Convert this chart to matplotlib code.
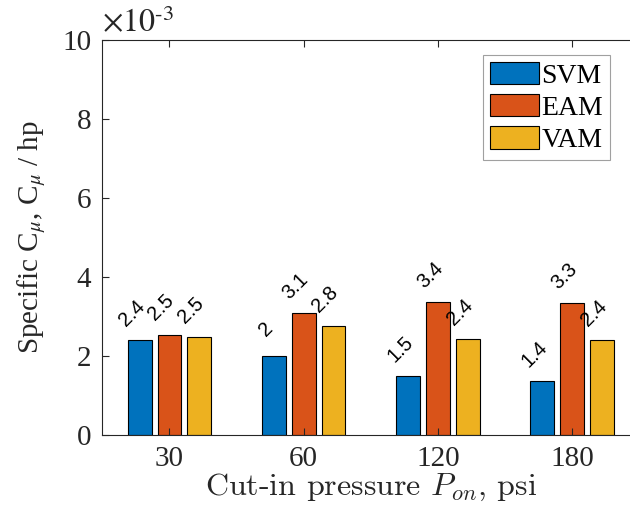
import matplotlib
matplotlib.use('Agg')
import matplotlib.pyplot as plt
import numpy as np

# values in units of 1e-3
pressures = ['30', '60', '120', '180']
methods = ['SVM', 'EAM', 'VAM']
svm = [2.40, 1.99, 1.49, 1.36]
eam = [2.54, 3.08, 3.36, 3.33]
vam = [2.47, 2.75, 2.42, 2.40]
colors = ['#0072BD', '#D95319', '#EDB120']

plt.rcParams['font.family'] = ['Liberation Serif', 'DejaVu Serif']
plt.rcParams['mathtext.fontset'] = 'stix'

fig = plt.figure(figsize=(6.3, 5.16), dpi=100)
ax = fig.add_axes([0.1625, 0.157, 0.852, 0.7655])

x = np.arange(1, len(pressures) + 1)
step = 0.2222
w = 0.178
for i, (vals, lab) in enumerate(zip([svm, eam, vam], methods)):
    xs = x + (i - 1) * step
    ax.bar(xs, vals, w, color=colors[i], edgecolor='black', linewidth=0.8, label=lab)
    for xi, v in zip(xs, vals):
        ax.annotate('%.2g' % v, (xi, v), xytext=(-5.8, 19.4), textcoords='offset points',
                    rotation=45, ha='center', va='center', fontsize=14.5,
                    family=['Liberation Sans', 'DejaVu Sans'], color='black')

ax.set_xlim(0.5, 4.5)
ax.set_ylim(0, 10)
ax.set_xticks(x)
ax.set_xticklabels(pressures)
ax.set_yticks([0, 2, 4, 6, 8, 10])
ax.tick_params(direction='in', length=5, width=0.8, labelsize=21, colors='#262626',
               top=True, right=True, pad=8)
for s in ax.spines.values():
    s.set_linewidth(0.8)
    s.set_color('#262626')

ax.text(0.0, 1.003, r'$\times10^{\text{-}3}$', transform=ax.transAxes, fontsize=23,
        color='#262626', va='bottom', ha='left')

ax.set_ylabel(r'Specific C$_{\mu}$, C$_{\mu}$ / hp', fontsize=21, color='#262626', labelpad=10)
ax.set_xlabel(r'Cut-in pressure $P_{on}$, psi', fontsize=23, family='cmr10',
              math_fontfamily='cm', color='#262626', labelpad=0)

leg = ax.legend(loc='upper right', bbox_to_anchor=(0.946, 0.962), fontsize=20,
                handlelength=1.75, handleheight=0.85, handletextpad=0.1,
                labelspacing=0.2, borderpad=0.25, borderaxespad=0, fancybox=False)
leg.get_frame().set_edgecolor('#888888')
leg.get_frame().set_linewidth(0.8)

plt.savefig('out.png', dpi=100)
